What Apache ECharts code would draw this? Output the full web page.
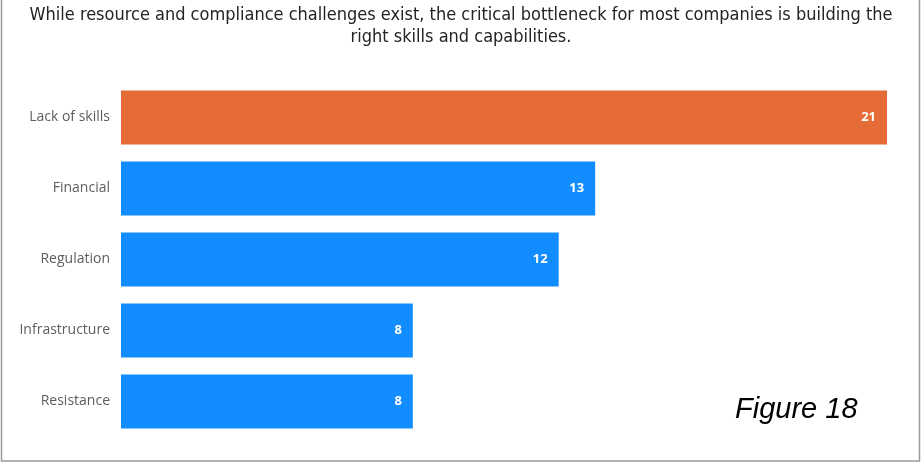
<!DOCTYPE html>
<html><head><meta charset="utf-8">
<script src="https://cdn.jsdelivr.net/npm/echarts@6/dist/echarts.min.js"></script>
<style>html,body{margin:0;padding:0;background:#fff}#c{width:922px;height:464px}</style>
</head><body><div id="c"></div>
<script>
const categories = ['Lack of skills', 'Financial', 'Regulation', 'Infrastructure', 'Resistance'];
const values = [21, 13, 12, 8, 8];
const highlight = 'Lack of skills';
const titleText = 'While resource and compliance challenges exist, the critical bottleneck for most companies is building the\nright skills and capabilities.';
const figureLabel = 'Figure 18';

const chart = echarts.init(document.getElementById('c'));
chart.setOption({
  animation: false,
  title: {
    text: titleText, left: 'center', top: 4, padding: 0,
    textStyle: { fontFamily: 'DejaVu Sans Condensed', fontSize: 18, fontWeight: 'normal', color: '#252423', lineHeight: 22 }
  },
  grid: { left: 121, top: 82, width: 766, height: 355 },
  xAxis: { type: 'value', min: 0, max: 21, show: false },
  yAxis: {
    type: 'category', data: categories, inverse: true,
    axisLine: { show: false }, axisTick: { show: false },
    axisLabel: { color: '#605E5C', fontFamily: 'Open Sans', fontSize: 14, margin: 11 }
  },
  series: [{
    type: 'bar', barCategoryGap: '24%',
    data: values.map((v, i) => ({ value: v, itemStyle: { color: categories[i] === highlight ? '#E66C37' : '#118DFF' } })),
    label: { show: true, position: 'insideRight', distance: 11, color: '#fff', fontWeight: 'bold', fontFamily: 'Open Sans', fontSize: 13 }
  }],
  graphic: [
    { type: 'rect', shape: { x: 1.5, y: -2, width: 918, height: 463 }, style: { fill: 'none', stroke: '#9a9a9a', lineWidth: 1.5 } },
    { type: 'text', style: { x: 735, y: 410, text: figureLabel, font: 'italic 29px "Liberation Sans"', fill: '#000', textVerticalAlign: 'middle' } }
  ]
});
</script></body></html>
